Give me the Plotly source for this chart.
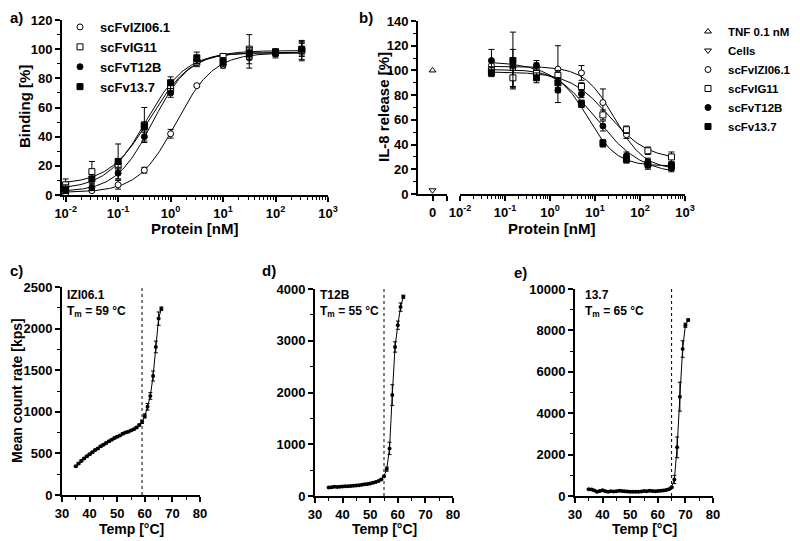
import numpy as np
import plotly.graph_objects as go

# ---------------- data ----------------
# Panel a: binding
conc_a = [0.01, 0.0316, 0.1, 0.316, 1, 3.16, 10, 31.6, 100, 316]
bind_izi = [1, 3, 7, 17, 42, 75, 89, 94, 97, 99]
bind_izi_err = [1, 1, 3, 2, 3, 1, 2, 7, 3, 7]
bind_ig11 = [7, 16, 20, 48, 73, 91, 95, 100, 98, 99]
bind_ig11_err = [4, 7, 3, 12, 3, 3, 2, 10, 2, 6]
bind_t12b = [3, 5, 15, 40, 70, 93, 92, 97, 97, 100]
bind_t12b_err = [2, 2, 4, 3, 3, 3, 2, 4, 2, 4]
bind_137 = [4, 11, 23, 47, 77, 94, 91, 97, 98, 100]
bind_137_err = [3, 3, 12, 3, 4, 4, 3, 3, 2, 5]

# Panel b: IL-8 release
ctrl_tnf = [100]
ctrl_cells = [3]
conc_b = [0.05, 0.15, 0.5, 1.5, 5, 15, 50, 150, 500]
il8_izi = [104, 102, 102, 101, 98, 74, 48, 26, 22]
il8_izi_err = [3, 15, 4, 19, 6, 11, 3, 3, 3]
il8_ig11 = [100, 94, 98, 96, 87, 64, 52, 35, 30]
il8_ig11_err = [3, 8, 4, 4, 3, 4, 3, 3, 4]
il8_t12b = [108, 104, 104, 84, 81, 55, 31, 24, 21]
il8_t12b_err = [9, 4, 4, 10, 3, 4, 3, 4, 3]
il8_137 = [98, 108, 94, 90, 73, 41, 28, 24, 23]
il8_137_err = [3, 23, 4, 4, 3, 3, 3, 3, 3]

# Panels c-e: thermal scans
temp_c = list(range(35, 67))
rate_c = [345, 380, 410, 440, 465, 490, 515, 540, 560, 585, 605, 625, 645, 665, 685, 700,
          715, 735, 750, 760, 775, 790, 810, 840, 880, 950, 1060, 1190, 1430, 1780, 2120, 2240]
rate_c_err = [10] * 24 + [20, 25, 40, 40, 60, 70, 80, 20]
tm_c = 59

temp_d = list(range(35, 63))
rate_d = [165, 170, 180, 175, 180, 185, 190, 190, 195, 200, 205, 210, 215, 225, 230, 240,
          255, 270, 290, 320, 380, 520, 920, 1950, 2880, 3300, 3650, 3850]
rate_d_err = [10] * 21 + [40, 120, 200, 100, 80, 80, 30]
tm_d = 55

temp_e = list(range(35, 72))
rate_e = [330, 320, 260, 200, 240, 280, 230, 210, 230, 220, 230, 250, 240, 230, 220, 210,
          200, 200, 210, 220, 240, 230, 250, 240, 230, 240, 250, 260, 290, 330, 420, 800,
          2350, 4800, 7100, 8250, 8500]
rate_e_err = [30] * 31 + [200, 500, 700, 400, 100, 50]
tm_e = 65

log_ticks = [0.01, 0.1, 1, 10, 100, 1000]
log_ticktext = ['10<sup>-2</sup>', '10<sup>-1</sup>', '10<sup>0</sup>',
                '10<sup>1</sup>', '10<sup>2</sup>', '10<sup>3</sup>']


# ---------------- 4PL fit (from data) ----------------
def fit4pl(conc, y):
    lx = np.log10(np.asarray(conc, float))
    y = np.asarray(y, float)
    les = np.linspace(lx.min() - 1, lx.max() + 1, 801)
    best = (np.inf, None)
    for h in np.linspace(0.3, 2.5, 45):
        s = 1.0 / (1.0 + 10 ** ((les[:, None] - lx[None, :]) * h))
        u = 1 - s
        a11 = (u * u).sum(1); a12 = (u * s).sum(1); a22 = (s * s).sum(1)
        b1 = (u * y).sum(1); b2 = (s * y).sum(1)
        det = a11 * a22 - a12 ** 2
        bot = (b1 * a22 - b2 * a12) / det
        top = (a11 * b2 - a12 * b1) / det
        pred = bot[:, None] * u + top[:, None] * s
        sse = ((pred - y) ** 2).sum(1)
        i = int(np.argmin(sse))
        if sse[i] < best[0]:
            best = (sse[i], (les[i], h, bot[i], top[i]))
    le, h, bot, top = best[1]
    xs = np.logspace(lx.min(), lx.max(), 200)
    s = 1.0 / (1.0 + 10 ** ((le - np.log10(xs)) * h))
    return xs, bot * (1 - s) + top * s


FONT = "Liberation Sans, Arial, sans-serif"
fig = go.Figure()

def err(vals, w=3):
    return dict(type='data', array=vals, visible=True, color='black', thickness=1, width=w)

open_m = lambda sym: dict(symbol=sym, size=6, color='white', line=dict(color='black', width=1))
fill_m = lambda sym: dict(symbol=sym, size=6, color='black', line=dict(color='black', width=1))

# ---- Panel a ----
series_a = [
    ('scFvIZI06.1', bind_izi, bind_izi_err, open_m('circle')),
    ('scFvIG11', bind_ig11, bind_ig11_err, open_m('square')),
    ('scFvT12B', bind_t12b, bind_t12b_err, fill_m('circle')),
    ('scFv13.7', bind_137, bind_137_err, fill_m('square')),
]
for name, ys, es, m in series_a:
    xs, yf = fit4pl(conc_a, ys)
    fig.add_trace(go.Scatter(x=xs, y=yf, mode='lines', line=dict(color='black', width=1),
                             showlegend=False, xaxis='x', yaxis='y', hoverinfo='skip'))
for name, ys, es, m in series_a:
    fig.add_trace(go.Scatter(x=conc_a, y=ys, error_y=err(es), mode='markers', marker=m,
                             name=name, legend='legend', xaxis='x', yaxis='y'))

# ---- Panel b ----
fig.add_trace(go.Scatter(x=[0], y=ctrl_tnf, mode='markers', marker=open_m('triangle-up'),
                         name='TNF 0.1 nM', legend='legend2', xaxis='x2', yaxis='y2'))
fig.add_trace(go.Scatter(x=[0], y=ctrl_cells, mode='markers', marker=open_m('triangle-down'),
                         name='Cells', legend='legend2', xaxis='x2', yaxis='y2'))
series_b = [
    ('scFvIZI06.1', il8_izi, il8_izi_err, open_m('circle')),
    ('scFvIG11', il8_ig11, il8_ig11_err, open_m('square')),
    ('scFvT12B', il8_t12b, il8_t12b_err, fill_m('circle')),
    ('scFv13.7', il8_137, il8_137_err, fill_m('square')),
]
for name, ys, es, m in series_b:
    xs, yf = fit4pl(conc_b, ys)
    fig.add_trace(go.Scatter(x=xs, y=yf, mode='lines', line=dict(color='black', width=1),
                             showlegend=False, xaxis='x3', yaxis='y2', hoverinfo='skip'))
for name, ys, es, m in series_b:
    fig.add_trace(go.Scatter(x=conc_b, y=ys, error_y=err(es), mode='markers', marker=m,
                             name=name, legend='legend2', xaxis='x3', yaxis='y2'))

# ---- Panels c-e ----
for (tx, ry, re, xa, ya) in [(temp_c, rate_c, rate_c_err, 'x4', 'y3'),
                             (temp_d, rate_d, rate_d_err, 'x5', 'y4'),
                             (temp_e, rate_e, rate_e_err, 'x6', 'y5')]:
    fig.add_trace(go.Scatter(x=tx, y=ry, error_y=err(re, 2), mode='lines+markers',
                             line=dict(color='black', width=1),
                             marker=dict(symbol='circle', size=4, color='black'),
                             showlegend=False, xaxis=xa, yaxis=ya))

for tm, xa, ya in [(tm_c, 'x4', 'y3'), (tm_d, 'x5', 'y4'), (tm_e, 'x6', 'y5')]:
    fig.add_shape(type='line', x0=tm, x1=tm, y0=0, y1=1, xref=xa, yref=ya + ' domain',
                  line=dict(color='black', width=1, dash='dot'))

# ---------------- axes ----------------
# page body has an 8px margin: figure is sized/positioned to compensate
OFF = 8
W, H = 800 - OFF, 541 - OFF
fx = lambda x: (x - OFF) / W
fy = lambda y: 1 - (y - OFF) / H
px = lambda a, b: [fx(a), fx(b)]
py = lambda top, bot: [fy(bot), fy(top)]

tickfont = dict(family=FONT, size=13, color='black', weight='bold')
base = dict(showline=True, linecolor='black', linewidth=2, ticks='outside', ticklen=5,
            tickwidth=1.5, tickcolor='black', showgrid=False, zeroline=False,
            tickfont=tickfont, automargin=False)
minor_lin = lambda d: dict(dtick=d, ticks='outside', ticklen=3, tickwidth=1, tickcolor='black', showgrid=False)
minor_log = dict(tickmode='array', tickvals=[k * 10.0 ** e for e in range(-3, 3) for k in range(2, 10)],
                 ticks='outside', ticklen=3, tickwidth=1, tickcolor='black', showgrid=False)

lay = dict(
    xaxis=dict(base, domain=px(62, 328), type='log', range=[-2.07, 3], anchor='y',
               tickmode='array', tickvals=log_ticks, ticktext=log_ticktext, minor=minor_log),
    yaxis=dict(base, domain=py(20, 195), range=[0, 120], anchor='x', dtick=20, tick0=0,
               minor=minor_lin(10), tickformat='d'),
    xaxis2=dict(base, domain=px(418, 447), range=[-1, 1], anchor='y2', tickmode='array',
                tickvals=[0, 1], ticktext=['0', '']),
    xaxis3=dict(base, domain=px(460, 685), type='log', range=[-2, 3], anchor='y2',
                tickmode='array', tickvals=log_ticks, ticktext=log_ticktext, minor=minor_log),
    yaxis2=dict(base, domain=py(21, 194), range=[0, 140], anchor='x2', dtick=20, tick0=0,
                minor=minor_lin(10), tickformat='d'),
    xaxis4=dict(base, domain=px(62, 200), range=[30, 80], anchor='y3', dtick=10, minor=minor_lin(5)),
    yaxis3=dict(base, domain=py(287, 495), range=[0, 2500], anchor='x4', dtick=500,
                minor=minor_lin(250), tickformat='d'),
    xaxis5=dict(base, domain=px(315, 453), range=[30, 80], anchor='y4', dtick=10, minor=minor_lin(5)),
    yaxis4=dict(base, domain=py(289, 496), range=[0, 4000], anchor='x5', dtick=1000,
                minor=minor_lin(500), tickformat='d'),
    xaxis6=dict(base, domain=px(575, 713), range=[30, 80], anchor='y5', dtick=10, minor=minor_lin(5)),
    yaxis5=dict(base, domain=py(289, 496), range=[0, 10000], anchor='x6', dtick=2000,
                minor=minor_lin(1000), tickformat='d'),
)

fig.update_layout(
    width=W, height=H, margin=dict(l=0, r=0, t=0, b=0, autoexpand=False),
    paper_bgcolor='white', plot_bgcolor='white',
    font=dict(family=FONT, color='black'),
    legend=dict(x=fx(60), y=fy(12), xanchor='left', yanchor='top',
                font=dict(family=FONT, size=13, color='black', weight='bold'),
                bgcolor='rgba(0,0,0,0)', tracegroupgap=0),
    legend2=dict(x=fx(688), y=fy(17), xanchor='left', yanchor='top',
                 font=dict(family=FONT, size=11.5, color='black', weight='bold'),
                 bgcolor='rgba(0,0,0,0)', tracegroupgap=0),
    **lay,
)

def ann(text, x, y, size=15, angle=0, xanchor='center', yanchor='middle', **kw):
    fig.add_annotation(text=text, x=max(fx(x), 0), y=fy(y), xref='paper', yref='paper',
                       showarrow=False, textangle=angle, xanchor=xanchor, yanchor=yanchor,
                       font=dict(family=FONT, size=size, color='black', weight='bold'), **kw)

# panel labels
ann('a)', 2, 17, size=15, xanchor='left')
ann('b)', 357, 17, size=15, xanchor='left')
ann('c)', 2, 271, size=15, xanchor='left')
ann('d)', 260, 271, size=15, xanchor='left')
ann('e)', 512, 272, size=15, xanchor='left')

# axis titles
ann('Binding [%]', 24, 107, size=15, angle=-90)
ann('Protein [nM]', 195, 229, size=15)
ann('IL-8 release [%]', 383, 107, size=15, angle=-90)
ann('Protein [nM]', 552, 229, size=15)
ann('Mean count rate [kps]', 17, 391, size=14, angle=-90)
ann('Temp [°C]', 131, 529, size=14)
ann('Temp [°C]', 384, 529, size=14)
ann('Temp [°C]', 644, 529, size=14)

# Tm labels
for name, tm, x0 in [('IZI06.1', tm_c, 65), ('T12B', tm_d, 318), ('13.7', tm_e, 583)]:
    ann(f'{name}<br>T<sub>m</sub> = {tm} °C', x0, 286, size=12, xanchor='left', yanchor='top',
        align='left')

fig.write_html('out.html')
